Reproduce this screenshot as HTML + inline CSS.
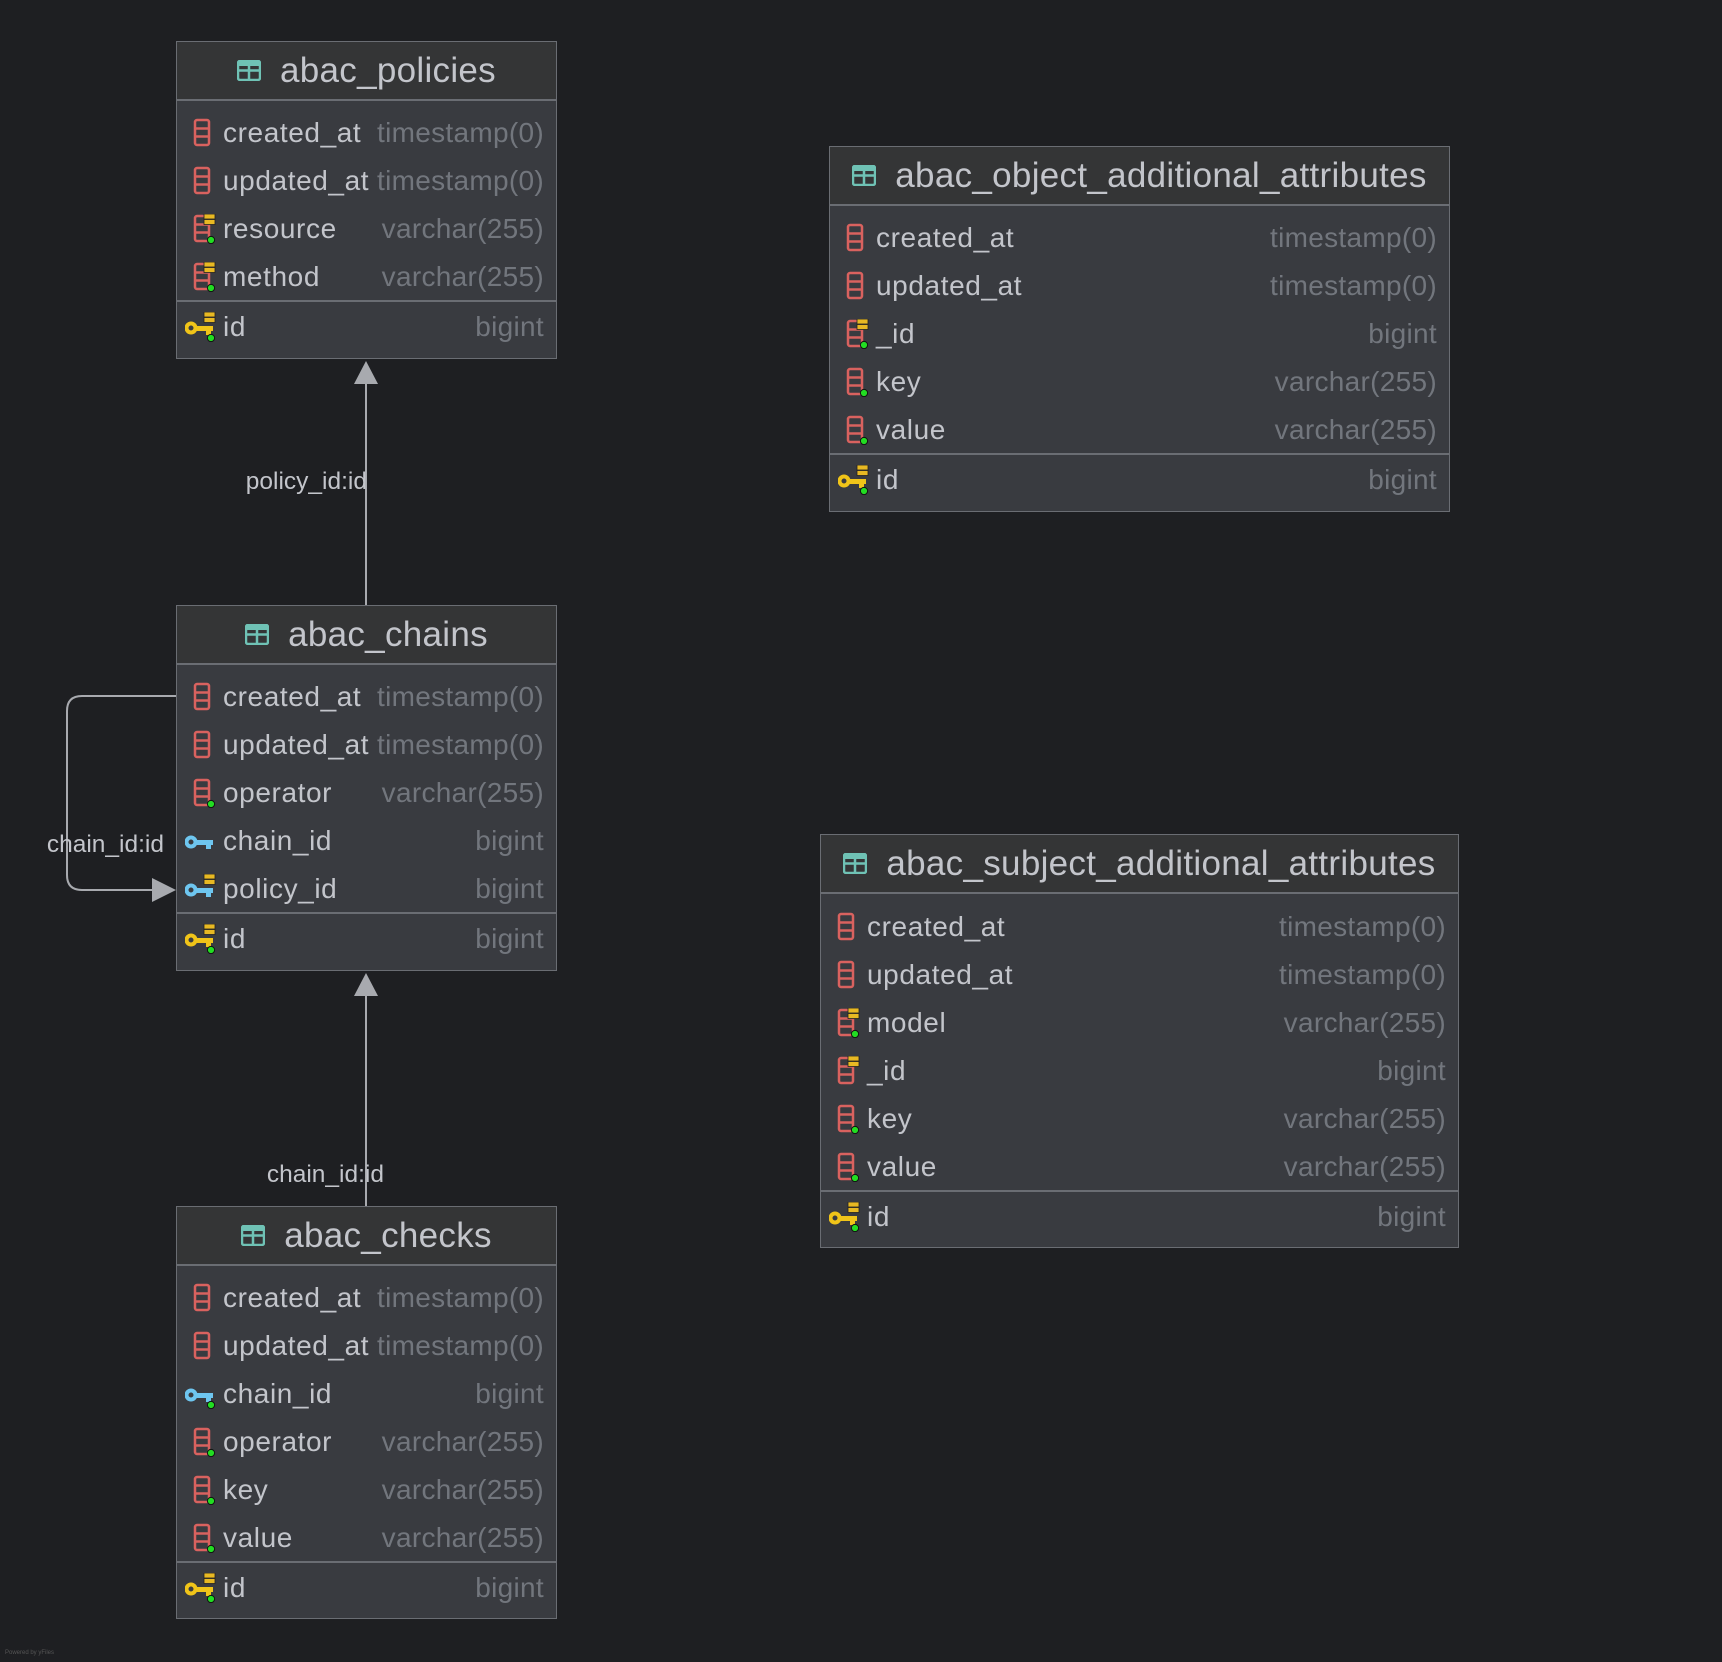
<!DOCTYPE html>
<html><head><meta charset="utf-8">
<style>
body{margin:0;width:1722px;height:1662px;background:#1e1f22;position:relative;overflow:hidden;font-family:"Liberation Sans","DejaVu Sans",sans-serif}
.box{position:absolute;background:#393b40;border:1.5px solid #6a6d73;box-sizing:border-box}
.hd{height:57px;background:#343536;border-bottom:2px solid #6a6d73;display:flex;align-items:center;justify-content:center;color:#c3c5cb;font-size:35px;letter-spacing:0.3px}
.hd svg{margin-right:19px}
.row{position:absolute;left:0;right:0;height:48px;display:flex;align-items:center}
.row svg{position:absolute;left:8px;top:9px}
.n{position:absolute;left:46px;color:#c3c5cb;font-size:28px;letter-spacing:0.6px}
.t{position:absolute;right:12px;color:#72767d;font-size:28px;letter-spacing:0.3px}
.sep{position:absolute;left:0;right:0;height:2px;background:#6a6d73}
.lbl{position:absolute;color:#c3c5cb;font-size:24.5px;text-align:right;width:200px}
</style></head><body>
<svg width="0" height="0" style="position:absolute">
<defs>
<g id="col"><rect x="10" y="2" width="14" height="25" rx="2" fill="none" stroke="#d9625f" stroke-width="2.5"/><line x1="10" y1="10.5" x2="24" y2="10.5" stroke="#d9625f" stroke-width="2.5"/><line x1="10" y1="18.5" x2="24" y2="18.5" stroke="#d9625f" stroke-width="2.5"/></g>
<g id="badge"><rect x="19" y="0" width="11" height="5" fill="#e8b923" stroke="#222" stroke-width="0.8"/><rect x="19" y="5.5" width="11" height="5" fill="#e8b923" stroke="#222" stroke-width="0.8"/></g>
<g id="dot"><circle cx="26" cy="26" r="3.6" fill="#22dd22" stroke="#111" stroke-width="1"/></g>
<g id="ykey"><circle cx="6" cy="16" r="4.5" fill="none" stroke="#f0c419" stroke-width="4"/><rect x="10" y="14" width="18" height="5" fill="#f0c419"/><rect x="21" y="17" width="5" height="6" fill="#f0c419"/></g>
<g id="bkey"><circle cx="6" cy="16" r="4.5" fill="none" stroke="#6ec6f0" stroke-width="4"/><rect x="10" y="14" width="18" height="5" fill="#6ec6f0"/><rect x="21" y="17" width="5" height="6" fill="#6ec6f0"/></g>
<g id="tbl"><rect x="1" y="1" width="22" height="19" rx="2" fill="none" stroke="#6fc2b5" stroke-width="2.5"/><line x1="1" y1="10.5" x2="23" y2="10.5" stroke="#6fc2b5" stroke-width="2.5"/><line x1="12" y1="6" x2="12" y2="20" stroke="#6fc2b5" stroke-width="2.5"/><rect x="1" y="1" width="22" height="5" fill="#6fc2b5"/></g>
</defs></svg>

<svg width="1722" height="1662" style="position:absolute;left:0;top:0">
<g stroke="#a8aaaf" stroke-width="2" fill="none">
<line x1="366" y1="605" x2="366" y2="380"/>
<line x1="366" y1="1206" x2="366" y2="992"/>
<path d="M176 696 H82 Q67 696 67 711 V875 Q67 890 82 890 H156"/>
</g>
<polygon points="366,361 354,384 378,384" fill="#a8aaaf"/>
<polygon points="366,973 354,996 378,996" fill="#a8aaaf"/>
<polygon points="176,890 152,878 152,902" fill="#a8aaaf"/>
</svg>
<div class="lbl" style="left:167px;top:468px">policy_id:id</div>
<div class="lbl" style="left:184px;top:1161px">chain_id:id</div>
<div class="lbl" style="left:-36px;top:831px">chain_id:id</div>

<div class="box" style="left:176px;top:41px;width:381px;height:318px">
<div class="hd"><svg width="24" height="21"><use href="#tbl"/></svg>abac_policies</div>
<div class="row" style="top:67px"><svg width="32" height="30"><use href="#col"/></svg><span class="n">created_at</span><span class="t">timestamp(0)</span></div>
<div class="row" style="top:115px"><svg width="32" height="30"><use href="#col"/></svg><span class="n">updated_at</span><span class="t">timestamp(0)</span></div>
<div class="row" style="top:163px"><svg width="32" height="30"><use href="#col"/><use href="#badge"/><use href="#dot"/></svg><span class="n">resource</span><span class="t">varchar(255)</span></div>
<div class="row" style="top:211px"><svg width="32" height="30"><use href="#col"/><use href="#badge"/><use href="#dot"/></svg><span class="n">method</span><span class="t">varchar(255)</span></div>
<div class="sep" style="top:258px"></div>
<div class="row" style="top:261px"><svg width="32" height="30"><use href="#ykey"/><use href="#badge"/><use href="#dot"/></svg><span class="n">id</span><span class="t">bigint</span></div>
</div>

<div class="box" style="left:829px;top:146px;width:621px;height:366px">
<div class="hd"><svg width="24" height="21"><use href="#tbl"/></svg>abac_object_additional_attributes</div>
<div class="row" style="top:67px"><svg width="32" height="30"><use href="#col"/></svg><span class="n">created_at</span><span class="t">timestamp(0)</span></div>
<div class="row" style="top:115px"><svg width="32" height="30"><use href="#col"/></svg><span class="n">updated_at</span><span class="t">timestamp(0)</span></div>
<div class="row" style="top:163px"><svg width="32" height="30"><use href="#col"/><use href="#badge"/><use href="#dot"/></svg><span class="n">_id</span><span class="t">bigint</span></div>
<div class="row" style="top:211px"><svg width="32" height="30"><use href="#col"/><use href="#dot"/></svg><span class="n">key</span><span class="t">varchar(255)</span></div>
<div class="row" style="top:259px"><svg width="32" height="30"><use href="#col"/><use href="#dot"/></svg><span class="n">value</span><span class="t">varchar(255)</span></div>
<div class="sep" style="top:306px"></div>
<div class="row" style="top:309px"><svg width="32" height="30"><use href="#ykey"/><use href="#badge"/><use href="#dot"/></svg><span class="n">id</span><span class="t">bigint</span></div>
</div>

<div class="box" style="left:176px;top:605px;width:381px;height:366px">
<div class="hd"><svg width="24" height="21"><use href="#tbl"/></svg>abac_chains</div>
<div class="row" style="top:67px"><svg width="32" height="30"><use href="#col"/></svg><span class="n">created_at</span><span class="t">timestamp(0)</span></div>
<div class="row" style="top:115px"><svg width="32" height="30"><use href="#col"/></svg><span class="n">updated_at</span><span class="t">timestamp(0)</span></div>
<div class="row" style="top:163px"><svg width="32" height="30"><use href="#col"/><use href="#dot"/></svg><span class="n">operator</span><span class="t">varchar(255)</span></div>
<div class="row" style="top:211px"><svg width="32" height="30"><use href="#bkey"/></svg><span class="n">chain_id</span><span class="t">bigint</span></div>
<div class="row" style="top:259px"><svg width="32" height="30"><use href="#bkey"/><use href="#badge"/></svg><span class="n">policy_id</span><span class="t">bigint</span></div>
<div class="sep" style="top:306px"></div>
<div class="row" style="top:309px"><svg width="32" height="30"><use href="#ykey"/><use href="#badge"/><use href="#dot"/></svg><span class="n">id</span><span class="t">bigint</span></div>
</div>

<div class="box" style="left:820px;top:834px;width:639px;height:414px">
<div class="hd"><svg width="24" height="21"><use href="#tbl"/></svg>abac_subject_additional_attributes</div>
<div class="row" style="top:68px"><svg width="32" height="30"><use href="#col"/></svg><span class="n">created_at</span><span class="t">timestamp(0)</span></div>
<div class="row" style="top:116px"><svg width="32" height="30"><use href="#col"/></svg><span class="n">updated_at</span><span class="t">timestamp(0)</span></div>
<div class="row" style="top:164px"><svg width="32" height="30"><use href="#col"/><use href="#badge"/><use href="#dot"/></svg><span class="n">model</span><span class="t">varchar(255)</span></div>
<div class="row" style="top:212px"><svg width="32" height="30"><use href="#col"/><use href="#badge"/></svg><span class="n">_id</span><span class="t">bigint</span></div>
<div class="row" style="top:260px"><svg width="32" height="30"><use href="#col"/><use href="#dot"/></svg><span class="n">key</span><span class="t">varchar(255)</span></div>
<div class="row" style="top:308px"><svg width="32" height="30"><use href="#col"/><use href="#dot"/></svg><span class="n">value</span><span class="t">varchar(255)</span></div>
<div class="sep" style="top:355px"></div>
<div class="row" style="top:358px"><svg width="32" height="30"><use href="#ykey"/><use href="#badge"/><use href="#dot"/></svg><span class="n">id</span><span class="t">bigint</span></div>
</div>

<div class="box" style="left:176px;top:1206px;width:381px;height:413px">
<div class="hd"><svg width="24" height="21"><use href="#tbl"/></svg>abac_checks</div>
<div class="row" style="top:67px"><svg width="32" height="30"><use href="#col"/></svg><span class="n">created_at</span><span class="t">timestamp(0)</span></div>
<div class="row" style="top:115px"><svg width="32" height="30"><use href="#col"/></svg><span class="n">updated_at</span><span class="t">timestamp(0)</span></div>
<div class="row" style="top:163px"><svg width="32" height="30"><use href="#bkey"/><use href="#dot"/></svg><span class="n">chain_id</span><span class="t">bigint</span></div>
<div class="row" style="top:211px"><svg width="32" height="30"><use href="#col"/><use href="#dot"/></svg><span class="n">operator</span><span class="t">varchar(255)</span></div>
<div class="row" style="top:259px"><svg width="32" height="30"><use href="#col"/><use href="#dot"/></svg><span class="n">key</span><span class="t">varchar(255)</span></div>
<div class="row" style="top:307px"><svg width="32" height="30"><use href="#col"/><use href="#dot"/></svg><span class="n">value</span><span class="t">varchar(255)</span></div>
<div class="sep" style="top:354px"></div>
<div class="row" style="top:357px"><svg width="32" height="30"><use href="#ykey"/><use href="#badge"/><use href="#dot"/></svg><span class="n">id</span><span class="t">bigint</span></div>
</div>

<div style="position:absolute;left:5px;top:1650px;color:#555;font-size:6px">Powered by yFiles</div>
</body></html>
